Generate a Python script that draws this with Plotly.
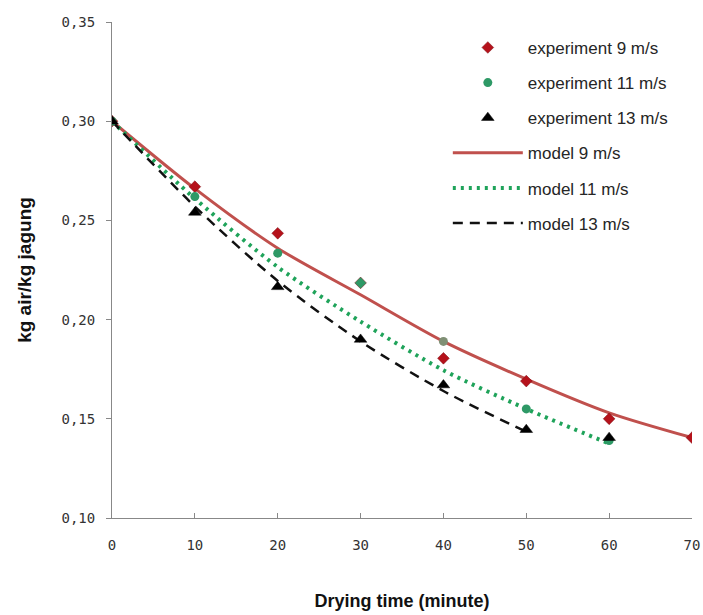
import plotly.graph_objects as go

# ---- data ----
time_exp9 = [0, 10, 20, 30, 40, 50, 60, 70]
exp9 = [0.300, 0.267, 0.2435, 0.2185, 0.1805, 0.169, 0.150, 0.1405]
time_exp11 = [0, 10, 20, 40, 50, 60]
exp11 = [0.300, 0.262, 0.2335, 0.189, 0.155, 0.139]
time_exp13 = [0, 10, 20, 30, 40, 50, 60]
exp13 = [0.300, 0.254, 0.2165, 0.190, 0.167, 0.1445, 0.1405]

time_model9 = [0, 10, 20, 30, 40, 50, 60, 70]
model9 = [0.300, 0.266, 0.236, 0.2125, 0.189, 0.170, 0.153, 0.1405]
time_model11 = [0, 10, 20, 30, 40, 50, 60]
model11 = [0.300, 0.261, 0.2265, 0.199, 0.1745, 0.155, 0.1375]
time_model13 = [0, 10, 20, 30, 40, 50]
model13 = [0.300, 0.257, 0.2195, 0.189, 0.164, 0.1435]

x_ticks = [0, 10, 20, 30, 40, 50, 60, 70]
y_ticks = [0.10, 0.15, 0.20, 0.25, 0.30, 0.35]

# ---- styles ----
RED_M = "#b5121b"
GREEN_M = "#2e9966"
exp9_colors = [RED_M, RED_M, RED_M, GREEN_M, RED_M, RED_M, RED_M, RED_M]
exp11_colors = [GREEN_M, GREEN_M, GREEN_M, "#7f8f74", GREEN_M, GREEN_M]

fig = go.Figure()

fig.add_trace(go.Scatter(x=time_model9, y=model9, mode="lines", name="model 9 m/s",
                         line=dict(color="#c0504d", width=3, shape="spline", smoothing=0.8),
                         legendgroup="m9", legendrank=4))
fig.add_trace(go.Scatter(x=time_model11, y=model11, mode="lines", name="model 11 m/s",
                         line=dict(color="#1fa35a", width=4, dash="3px,5px", shape="spline", smoothing=0.8),
                         legendgroup="m11", legendrank=5))
fig.add_trace(go.Scatter(x=time_model13, y=model13, mode="lines", name="model 13 m/s",
                         line=dict(color="#111111", width=2.5, dash="10px,7px", shape="spline", smoothing=0.8),
                         legendgroup="m13", legendrank=6))

fig.add_trace(go.Scatter(x=time_exp9, y=exp9, mode="markers", name="experiment 9 m/s",
                         marker=dict(symbol="diamond", size=9, color=exp9_colors,
                                     line=dict(color="#7a0a10", width=0.5)),
                         legendgroup="e9", legendrank=1))
fig.add_trace(go.Scatter(x=time_exp11, y=exp11, mode="markers", name="experiment 11 m/s",
                         marker=dict(symbol="circle", size=9, color=exp11_colors,
                                     line=dict(width=0)),
                         legendgroup="e11", legendrank=2))
fig.add_trace(go.Scatter(x=time_exp13, y=exp13, mode="markers", name="experiment 13 m/s",
                         marker=dict(symbol="triangle-up", size=11, color="#000000",
                                     line=dict(color="#000000", width=0.5)),
                         legendgroup="e13", legendrank=3))

fig.update_layout(
    width=703, height=615,
    margin=dict(l=112, r=11, t=22, b=97),
    paper_bgcolor="white", plot_bgcolor="white",
    separators=", ",
    showlegend=True,
    legend=dict(x=0.579, y=0.984, xanchor="left", yanchor="top",
                font=dict(family="Liberation Sans, Arial, sans-serif", size=17, color="#262626"),
                itemwidth=70, tracegroupgap=10, bgcolor="rgba(0,0,0,0)"),
    xaxis=dict(range=[0, 70], tickvals=x_ticks, showgrid=False, zeroline=False,
               automargin=False,
               showline=True, linecolor="#888888", linewidth=1,
               ticks="inside", ticklen=5, tickcolor="#888888",
               tickfont=dict(family="DejaVu Sans Mono, monospace", size=14, color="#333333"),
               ticklabelstandoff=14,
               title=dict(text="Drying time (minute)", standoff=42,
                          font=dict(family="Liberation Sans, Arial, sans-serif", size=18, color="#111111",
                                    weight="bold"))),
    yaxis=dict(range=[0.10, 0.35], tickvals=y_ticks, tickformat=".2f", showgrid=False, zeroline=False,
               automargin=False,
               showline=True, linecolor="#888888", linewidth=1,
               ticks="outside", ticklen=5, tickcolor="#888888",
               tickfont=dict(family="DejaVu Sans Mono, monospace", size=14, color="#333333"),
               ticklabelstandoff=8,
               title=dict(text="kg air/kg jagung", standoff=24,
                          font=dict(family="Liberation Sans, Arial, sans-serif", size=19, color="#111111",
                                    weight="bold"))),
)

fig.write_html("out.html")
